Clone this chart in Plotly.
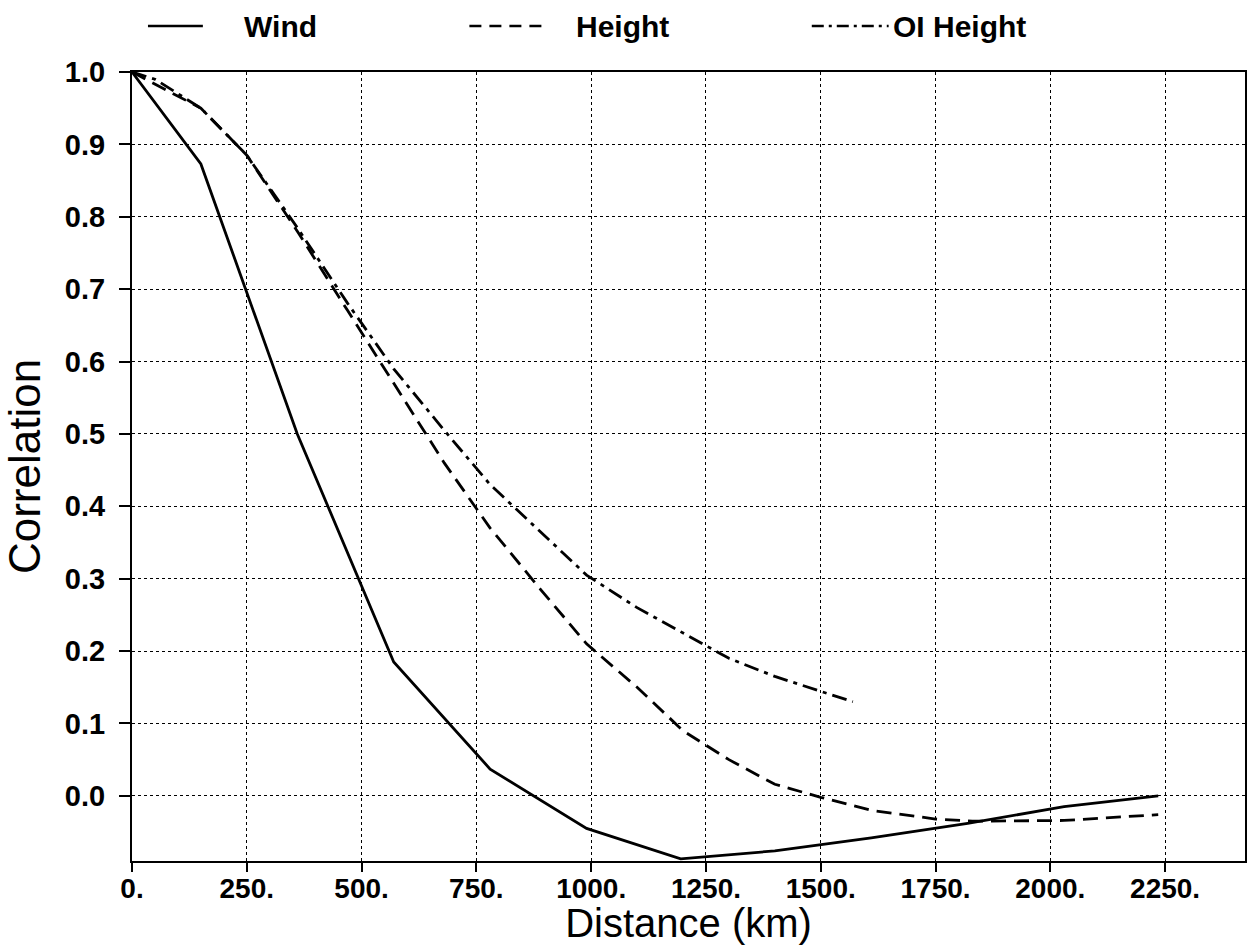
import plotly.graph_objects as go

# ---- data ----
wind_x = [0, 150, 360, 570, 780, 990, 1195, 1400, 1610, 1820, 2030, 2235]
wind_y = [1.0, 0.873, 0.5, 0.185, 0.037, -0.045, -0.087, -0.076, -0.058, -0.038, -0.015, 0.0]

height_x = [0, 150, 250, 360, 470, 570, 680, 780, 890, 990, 1100, 1200, 1300, 1400, 1500,
            1610, 1750, 1830, 2030, 2235]
height_y = [1.0, 0.95, 0.885, 0.78, 0.67, 0.57, 0.46, 0.37, 0.285, 0.21, 0.15, 0.09, 0.05,
            0.016, -0.002, -0.02, -0.032, -0.035, -0.034, -0.026]

oi_x = [0, 50, 150, 250, 360, 470, 570, 680, 780, 890, 990, 1100, 1200, 1300, 1400, 1500, 1570]
oi_y = [1.0, 0.99, 0.95, 0.885, 0.785, 0.68, 0.59, 0.505, 0.43, 0.365, 0.305, 0.26, 0.225,
        0.19, 0.165, 0.145, 0.13]

x_tickvals = [0, 250, 500, 750, 1000, 1250, 1500, 1750, 2000, 2250]
x_ticktext = ["0.", "250.", "500.", "750.", "1000.", "1250.", "1500.", "1750.", "2000.", "2250."]
y_tickvals = [0.0, 0.1, 0.2, 0.3, 0.4, 0.5, 0.6, 0.7, 0.8, 0.9, 1.0]
y_ticktext = ["0.0", "0.1", "0.2", "0.3", "0.4", "0.5", "0.6", "0.7", "0.8", "0.9", "1.0"]

series_names = ["Wind", "Height", "OI Height"]

# ---- styling ----
W, H = 1249, 945
ML, MR, MT, MB = 132, 2, 72, 84
FONT = "Liberation Sans, Arial, Helvetica, sans-serif"
DASH = "15px,8px"
DASHDOT = "15px,6px,4px,6px"

fig = go.Figure()
fig.add_trace(go.Scatter(x=wind_x, y=wind_y, mode="lines", name=series_names[0],
                         line=dict(color="black", width=2.8), showlegend=False))
fig.add_trace(go.Scatter(x=height_x, y=height_y, mode="lines", name=series_names[1],
                         line=dict(color="black", width=2.8, dash=DASH), showlegend=False))
fig.add_trace(go.Scatter(x=oi_x, y=oi_y, mode="lines", name=series_names[2],
                         line=dict(color="black", width=2.8, dash=DASHDOT), showlegend=False))

pw = W - ML - MR
ph = H - MT - MB


def px_x(p):
    return (p - ML) / pw


def px_y(p):
    return (H - MB - p) / ph


# manual legend above the plot
leg_y = 26
legend_items = [
    (series_names[0], 148, 203, "solid", 242),
    (series_names[1], 470, 546, "12px,8px", 575),
    (series_names[2], 813, 890, "12px,5px,3px,5px", 892),
]
for name, x0, x1, dash, tx in legend_items:
    fig.add_shape(type="line", xref="paper", yref="paper",
                  x0=px_x(x0), x1=px_x(x1), y0=px_y(leg_y), y1=px_y(leg_y),
                  line=dict(color="black", width=2.5, dash=dash))
    fig.add_annotation(xref="paper", yref="paper", x=px_x(tx), y=px_y(leg_y),
                       xanchor="left", yanchor="middle", showarrow=False, text=name,
                       font=dict(family=FONT, size=30, color="black", weight="bold"))

axis_common = dict(
    showline=True, linewidth=2, linecolor="black", mirror=True,
    ticks="outside", tickwidth=2, tickcolor="black",
    showgrid=True, gridcolor="black", gridwidth=1.3, griddash="dot",
    zeroline=False,
)

fig.update_layout(
    width=W, height=H,
    margin=dict(l=ML, r=MR, t=MT, b=MB),
    paper_bgcolor="white", plot_bgcolor="white",
    xaxis=dict(range=[0, 2424], tickmode="array", tickvals=x_tickvals, ticktext=x_ticktext,
               ticklen=9, ticklabelstandoff=-8,
               tickfont=dict(family=FONT, size=28, color="black", weight="bold"),
               title=dict(text="Distance (km)", standoff=0,
                          font=dict(family=FONT, size=40, color="black")),
               **axis_common),
    yaxis=dict(range=[-0.09, 1.0], tickmode="array", tickvals=y_tickvals, ticktext=y_ticktext,
               ticklen=11, ticklabelstandoff=8,
               tickfont=dict(family=FONT, size=29, color="black", weight="bold"),
               title=dict(text="Correlation", standoff=12,
                          font=dict(family=FONT, size=44, color="black")),
               **axis_common),
)

fig.write_html("out.html")
